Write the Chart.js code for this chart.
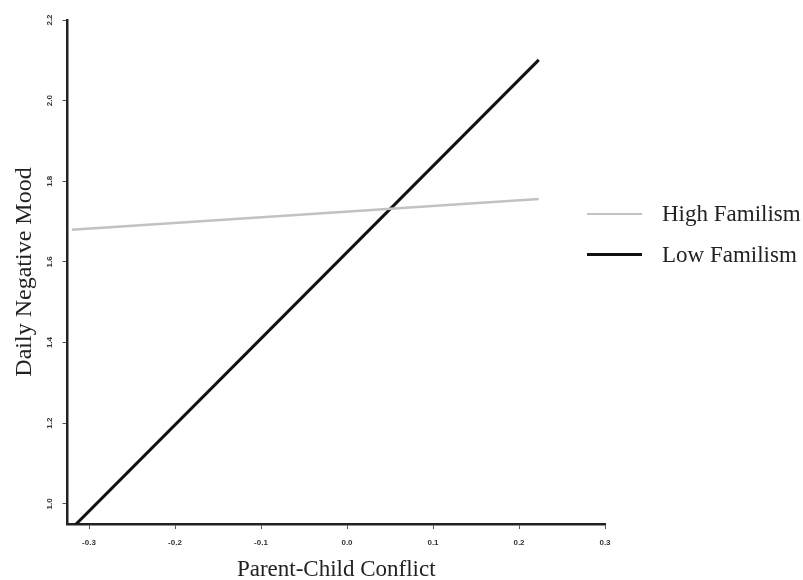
<!DOCTYPE html>
<html>
<head>
<meta charset="utf-8">
<script src="https://cdn.jsdelivr.net/npm/chart.js@4/dist/chart.umd.min.js"></script>
<style>
    body { margin: 0; background: #fff; }
    #wrap { position: relative; width: 803px; height: 580px; }
    #legend { position: absolute; left: 587px; top: 193px; font-family: "Liberation Serif", serif; font-size: 23px; color: #222; }
    .item { display: flex; align-items: center; height: 41px; white-space: nowrap; }
    .swatch { width: 55px; margin-right: 20px; }
</style>
</head>
<body>
<div id="wrap">
    <canvas id="chart"></canvas>
    <div id="legend"></div>
</div>
<script>
// values
var conflict = [-0.32, 0.223];
var highFamilism = [1.68, 1.756];
var lowFamilism = [0.939, 2.101];
var seriesNames = ['High Familism', 'Low Familism'];
var seriesColors = ['#c2c2c2', '#111111'];
var seriesWidths = [2.5, 3];
var xTicks = [-0.3, -0.2, -0.1, 0.0, 0.1, 0.2, 0.3];
var yTicks = [1.0, 1.2, 1.4, 1.6, 1.8, 2.0, 2.2];

function points(ys) {
    return conflict.map(function (x, i) { return { x: x, y: ys[i] }; });
}

var serif = '"Liberation Serif", "Times New Roman", serif';
var tickFont = { family: '"Liberation Sans", Arial, sans-serif', size: 8, weight: 'bold' };

var ctx = document.getElementById('chart').getContext('2d');
var chart = new Chart(ctx, {
    type: 'line',
    data: {
        datasets: [highFamilism, lowFamilism].map(function (vals, i) {
            return {
                label: seriesNames[i],
                data: points(vals),
                borderColor: seriesColors[i],
                backgroundColor: seriesColors[i],
                borderWidth: seriesWidths[i],
                pointRadius: 0,
                tension: 0,
                fill: false
            };
        })
    },
    options: {
        responsive: true,
        maintainAspectRatio: false,
        animation: false,
        layout: { padding: { top: 20, right: 198, bottom: 0, left: 0 } },
        plugins: { legend: { display: false }, tooltip: { enabled: false } },
        scales: {
            x: {
                type: 'linear',
                min: -0.325,
                max: 0.3,
                afterBuildTicks: function (scale) {
                    scale.ticks = xTicks.map(function (v) { return { value: v }; });
                },
                afterFit: function (scale) { scale.height = 56; },
                grid: { drawOnChartArea: false, tickLength: 5, tickColor: '#555', tickWidth: 1 },
                border: { display: true, color: '#222', width: 2.5 },
                ticks: {
                    font: tickFont,
                    color: '#333',
                    padding: 9,
                    maxRotation: 0,
                    autoSkip: false,
                    callback: function (v) { return v.toFixed(1); }
                },
                title: {
                    display: true,
                    text: 'Parent-Child Conflict',
                    font: { family: serif, size: 23, lineHeight: 0.9 },
                    color: '#222',
                    padding: { top: 0, bottom: 0 }
                }
            },
            y: {
                min: 0.95,
                max: 2.2,
                afterBuildTicks: function (scale) {
                    scale.ticks = yTicks.map(function (v) { return { value: v }; });
                },
                afterFit: function (scale) { scale.width = 67.5; },
                grid: { drawOnChartArea: false, tickLength: 5, tickColor: '#555', tickWidth: 1 },
                border: { display: true, color: '#222', width: 2.5 },
                ticks: {
                    font: tickFont,
                    color: '#333',
                    padding: 7,
                    minRotation: 90,
                    maxRotation: 90,
                    crossAlign: 'center',
                    autoSkip: false,
                    callback: function (v) { return v.toFixed(1); }
                },
                title: {
                    display: true,
                    text: 'Daily Negative Mood',
                    font: { family: serif, size: 24, lineHeight: 1.2 },
                    color: '#222',
                    padding: { top: 10, bottom: 0 }
                }
            }
        }
    }
});

// legend drawn next to the plot, overlapping its right edge like the original
var legendEl = document.getElementById('legend');
chart.data.datasets.forEach(function (ds) {
    var item = document.createElement('div');
    item.className = 'item';
    var sw = document.createElement('span');
    sw.className = 'swatch';
    sw.style.borderTop = ds.borderWidth + 'px solid ' + ds.borderColor;
    var txt = document.createElement('span');
    txt.textContent = ds.label;
    item.appendChild(sw);
    item.appendChild(txt);
    legendEl.appendChild(item);
});
</script>
</body>
</html>
